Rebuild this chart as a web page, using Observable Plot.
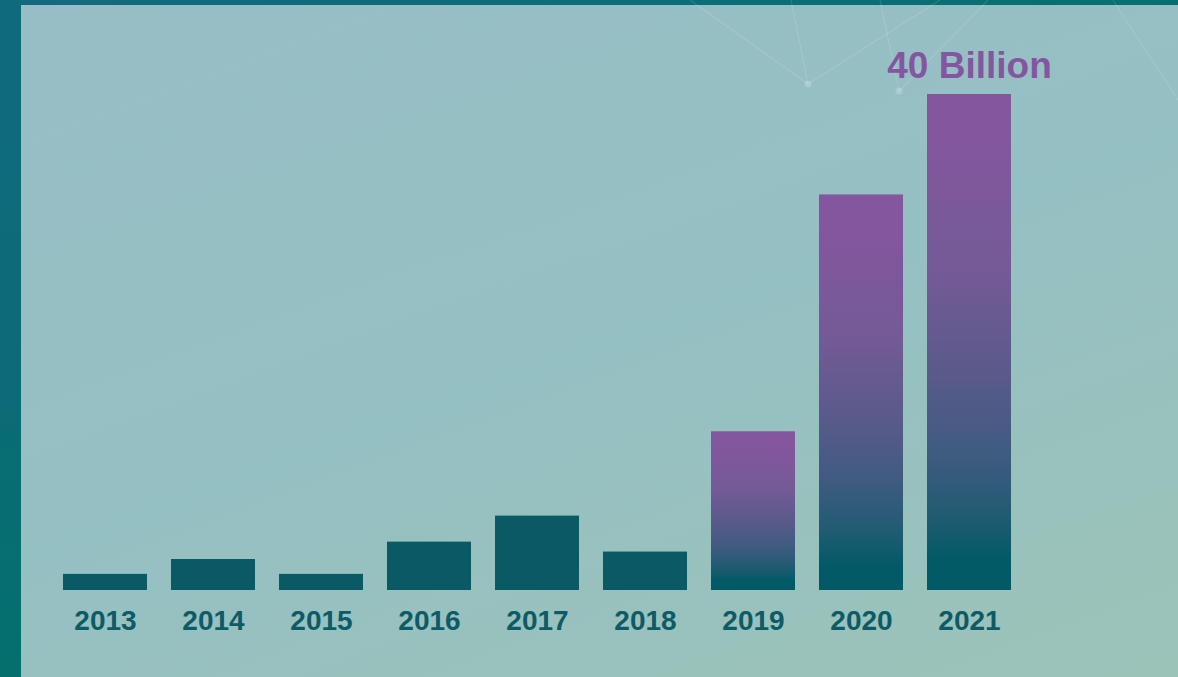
<!DOCTYPE html>
<html>
<head>
<meta charset="utf-8">
<script src="https://cdn.jsdelivr.net/npm/d3@7"></script>
<script src="https://cdn.jsdelivr.net/npm/@observablehq/plot@0.6"></script>
<style>
  html, body { margin: 0; padding: 0; width: 1178px; height: 677px; overflow: hidden; }
  #frame {
    position: relative; width: 1178px; height: 677px;
    background: linear-gradient(180deg, #106a7e 0%, #0a6c76 60%, #046f6d 100%);
  }
  #inner {
    position: absolute; left: 21px; top: 5px; right: 0; bottom: 0;
    background: linear-gradient(160deg, #97bec6 0%, #95c0c3 50%, #9cc3b8 100%);
  }
  #topbar {
    position: absolute; left: 21px; top: 0; right: 0; height: 5px;
    background: linear-gradient(90deg, #126a7f 0%, #07706f 100%);
  }
  #deco { position: absolute; left: 0; top: 0; }
  #chart { position: absolute; left: 0; top: 0; }
  #chart svg { background: transparent !important; }
</style>
</head>
<body>
<div id="frame">
  <div id="topbar"></div>
  <div id="inner"></div>
  <svg id="deco" width="1178" height="677">
    <g stroke="#ffffff" stroke-opacity="0.12" stroke-width="1.2" fill="none">
      <line x1="690" y1="0" x2="808" y2="84"/>
      <line x1="791" y1="0" x2="808" y2="84"/>
      <line x1="808" y1="84" x2="940" y2="0"/>
      <line x1="880" y1="0" x2="899" y2="91"/>
      <line x1="899" y1="91" x2="988" y2="0"/>
      <line x1="1113" y1="0" x2="1178" y2="100"/>
    </g>
    <g fill="#ffffff" fill-opacity="0.2">
      <circle cx="808" cy="84" r="3.5"/>
      <circle cx="899" cy="91" r="3.5"/>
    </g>
  </svg>
  <div id="chart"></div>
</div>
<script>
const years = ["2013","2014","2015","2016","2017","2018","2019","2020","2021"];
const values = [1.3, 2.5, 1.3, 3.9, 6.0, 3.1, 12.8, 31.9, 40];
const highlighted = ["2019","2020","2021"];
const peakLabel = "40 Billion";

const data = years.map((year, i) => ({year, value: values[i], hi: highlighted.includes(year)}));
const plain = data.filter(d => !d.hi);
const hi = data.filter(d => d.hi);
const peak = data[data.length - 1];

const defs = () => {
  const d = d3.create("svg:defs");
  const g = d.append("linearGradient").attr("id", "barGrad")
    .attr("x1", 0).attr("y1", 0).attr("x2", 0).attr("y2", 1);
  [[0.08, "#84569e"], [0.35, "#755a97"], [0.55, "#5c5a8b"], [0.72, "#405b80"],
   [0.85, "#215b72"], [0.94, "#025a66"], [1, "#025a66"]]
    .forEach(([o, c]) => g.append("stop").attr("offset", o).attr("stop-color", c));
  return d.node();
};

const chart = Plot.plot({
  width: 1178,
  height: 677,
  marginLeft: 0, marginRight: 0, marginTop: 0, marginBottom: 87,
  style: {background: "transparent", fontFamily: "'Liberation Sans', Arial, sans-serif"},
  x: {domain: years, range: [51, 1024], paddingInner: 0.222, paddingOuter: 0.111, axis: null},
  y: {domain: [0, 40], range: [590, 94], axis: null},
  marks: [
    defs,
    Plot.barY(plain, {x: "year", y: "value", fill: "#0a5a65"}),
    Plot.barY(hi, {x: "year", y: "value", fill: "url(#barGrad)"}),
    Plot.text(data, {x: "year", y: 0, text: "year", lineAnchor: "top", dy: 20,
      fontSize: 28, fontWeight: "bold", fill: "#0d5b66"}),
    Plot.text([peak], {x: "year", y: "value", text: () => peakLabel, lineAnchor: "bottom", dy: -17,
      fontSize: 37, fontWeight: "bold", fill: "#8456a0"})
  ]
});
document.getElementById("chart").appendChild(chart);
</script>
</body>
</html>
